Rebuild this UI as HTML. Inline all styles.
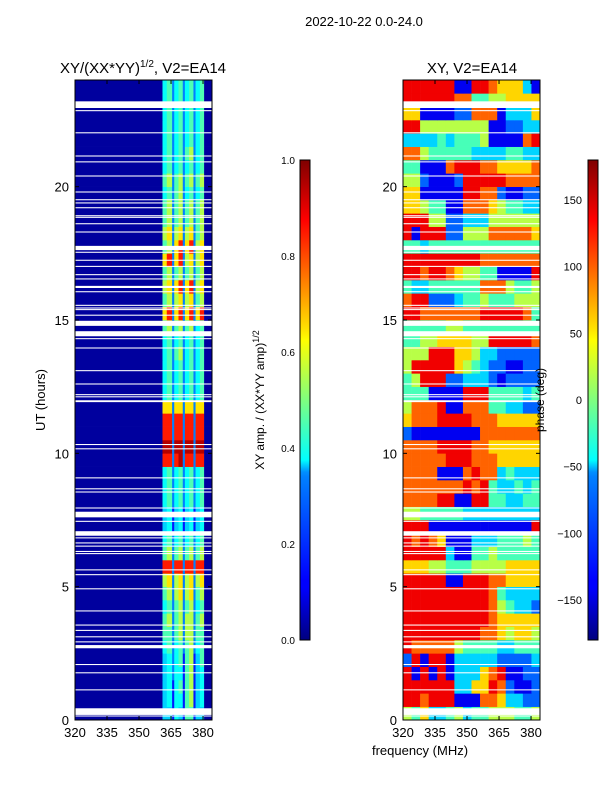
<!DOCTYPE html>
<html><head><meta charset="utf-8"><style>
body{margin:0;background:#fff;}
svg text{font-family:"Liberation Sans",sans-serif;}
</style></head><body>
<svg id="fig" width="600" height="800" viewBox="0 0 600 800" xmlns="http://www.w3.org/2000/svg">
<defs>
<linearGradient id="jetg" x1="0" y1="1" x2="0" y2="0">
<stop offset="0" stop-color="#00007f"/><stop offset="0.11" stop-color="#0000ff"/><stop offset="0.125" stop-color="#0000ff"/>
<stop offset="0.34" stop-color="#0080ff"/><stop offset="0.35" stop-color="#0090ff"/><stop offset="0.375" stop-color="#00ffff"/>
<stop offset="0.5" stop-color="#7fff7f"/><stop offset="0.625" stop-color="#ffff00"/><stop offset="0.65" stop-color="#ffe000"/>
<stop offset="0.875" stop-color="#ff0000"/><stop offset="1" stop-color="#7f0000"/>
</linearGradient>
</defs>
<text x="364" y="26" font-size="13" text-anchor="middle">2022-10-22 0.0-24.0</text>
<text x="143" y="73" font-size="15" text-anchor="middle">XY/(XX*YY)<tspan font-size="10" dy="-6">1/2</tspan><tspan dy="6">, V2=EA14</tspan></text>
<text x="472" y="73" font-size="15" text-anchor="middle">XY, V2=EA14</text>
<g id="left"></g>
<g id="right"></g>
<g id="axes"></g>
<text transform="translate(45,400) rotate(-90)" font-size="13" text-anchor="middle">UT (hours)</text>
<text x="420" y="755" font-size="13" text-anchor="middle">frequency (MHz)</text>
<rect x="300" y="160" width="10" height="480" fill="url(#jetg)" stroke="#000" stroke-width="1"/>
<rect x="588" y="160" width="10" height="480" fill="url(#jetg)" stroke="#000" stroke-width="1"/>
<text transform="translate(264,400) rotate(-90)" font-size="12" text-anchor="middle">XY amp. / (XX*YY amp)<tspan font-size="9" dy="-5">1/2</tspan></text>
<text transform="translate(544,400) rotate(-90)" font-size="12" text-anchor="middle">phase (deg)</text>
</svg>
<script>
const ampTicks=[0.0,0.2,0.4,0.6,0.8,1.0];
const phaseTicks=[-150,-100,-50,0,50,100,150];
const freqTicks=[320,335,350,365,380];
const utTicks=[0,5,10,15,20];
const ampLevels=[0.03,0.15,0.25,0.33,0.38,0.45,0.55,0.65,0.85,0.95];
const ampFreqEdges=[320,361,363,365.5,366.5,368.5,370.5,371.5,373.5,375.5,376.5,378.5,380.5,384.2];
const ampRows=["0331431551330","0341441561340","0341451561340","0342441561340","0342451561350","0452452562450",
"0552562662550","0562562662560","0452562562450","0562672672560","0672672672670","0882882882880",
"0562562562560","0452452452450","0341341341340","0341341341340","0452452452450","0452452452450",
"0452452452450","0882892882880","0992992992990","0882882882880","0882882882880","0772772772770",
"0452452452450","0452452452450","0452452452450","0452562452450","0452452452450","0562562562450",
"0782782782780","0562672672560","0672782782670","0562562562560","0782782672670","0562782782670",
"0672672672560","0562562562560","0562562562560","0452562452450","0562562562560","0452452452450",
"0452452562450","0452452452450","0452452452450","0452452452450","0452452452450","0452452452450"];
const phaseRows=["5463345344555445","8878881117763322","8888883366872112","8181813336781122","2818813333322223","8777775444433444",
"8888888887765665","8888888888766666","8888888888754332","8888888888743333","8888811888776666","6665544455556666",
"8888831144544444","8787611133344454","8881111111111118","5544444333333333","7777881188443344","7777777878433434",
"7777111787734333","7777788877766666","7777888877666666","2111111117777777","6777888877766666","5777811777443322",
"4441111888444434","4588822333212222","5888886543221122","5558886653322222","4455666655888887","4444455444444444",
"8877777778888874","7882223445444555","4334444447775445","8878876554411118","8888888887777777","4434444444444444",
"8188822555777776","8885522333555555","6654411777654433","6611111887721122","5521112888887777","4411178887766667",
"7754444433334433","3333434445111178","8855555555112233","6611112277713336","8888887744556666","8888881188766631"];
const flagStart=[0.13,0.19,1.11,1.75,2.06,2.69,2.91,3.1,3.34,3.54,4.07,4.9,5.43,5.61,6.22,6.3,6.5,6.62,6.81,6.91,7.43,7.6,7.93,8.53,8.65,9.06,10.15,10.31,11.92,12.1,12.18,12.58,13.08,13.93,14.28,14.39,14.78,15.16,15.37,15.43,15.53,16.04,16.2,16.52,16.68,16.99,17.22,17.52,17.62,18.28,18.59,18.83,18.89,19.19,19.37,19.49,19.78,20.38,20.91,21.13,22.0,22.83,22.95];
const flagEnd  =[0.17,0.44,1.15,1.79,2.1,2.81,2.95,3.14,3.38,3.58,4.11,4.94,5.47,5.65,6.26,6.34,6.54,6.66,6.85,7.08,7.47,7.81,7.97,8.57,8.69,9.1,10.19,10.35,11.99,12.14,12.22,12.62,13.12,13.97,14.32,14.58,14.97,15.2,15.41,15.47,15.57,16.08,16.28,16.56,16.72,17.03,17.26,17.56,17.78,18.32,18.63,18.87,18.93,19.23,19.41,19.53,19.82,20.42,20.95,21.17,22.04,22.87,23.2];

const NS="http://www.w3.org/2000/svg";
const panels={L:{x0:75,x1:212},R:{x0:403,x1:540}};
const Y0=720,Y1=80,UTMAX=24.0,FMIN=320,FMAX=384.2;
function yScale(t){return Y0-(t/UTMAX)*(Y0-Y1);}
function xScale(p,f){return p.x0+(f-FMIN)/(FMAX-FMIN)*(p.x1-p.x0);}
function cbY(v,lo,hi){return 640-(v-lo)/(hi-lo)*480;}
function cl(v){return Math.max(0,Math.min(1,v));}
function jet(v){const r=cl(1.5-Math.abs(4*v-3)),g=cl(1.5-Math.abs(4*v-2)),b=cl(1.5-Math.abs(4*v-1));
return `rgb(${Math.round(r*255)},${Math.round(g*255)},${Math.round(b*255)})`;}
function mk(tag,attrs,parent){const e=document.createElementNS(NS,tag);for(const k in attrs)e.setAttribute(k,attrs[k]);parent.appendChild(e);return e;}
const rowH=UTMAX/ampRows.length;
const gL=document.getElementById('left'),gR=document.getElementById('right'),gA=document.getElementById('axes');
ampRows.forEach((row,i)=>{
  const ya=yScale((i+1)*rowH),yb=yScale(i*rowH);
  for(let j=0;j<row.length;j++){
    const v=ampLevels[+row[j]];
    const xa=xScale(panels.L,ampFreqEdges[j]),xb=xScale(panels.L,ampFreqEdges[j+1]);
    const r=mk('rect',{x:xa,y:ya,width:xb-xa+0.3,height:yb-ya+0.3,fill:jet(v)},gL);
    
    
  }
});
phaseRows.forEach((row,i)=>{
  const ya=yScale((i+1)*rowH),yb=yScale(i*rowH);
  const n=row.length,df=(FMAX-FMIN)/n;
  for(let j=0;j<n;j++){
    const v=+row[j]/9;
    const xa=xScale(panels.R,FMIN+j*df),xb=xScale(panels.R,FMIN+(j+1)*df);
    const r=mk('rect',{x:xa,y:ya,width:xb-xa+0.3,height:yb-ya+0.3,fill:jet(v)},gR);
    
    
  }
});
flagStart.forEach((s,i)=>{
  const ya=yScale(flagEnd[i]),yb=yScale(s);
  [panels.L,panels.R].forEach(p=>{
    const r=mk('rect',{x:p.x0,y:ya,width:p.x1-p.x0,height:Math.max(1,yb-ya),fill:'#fff'},gA);
    
    
  });
});
[panels.L,panels.R].forEach(p=>{
  const fr=mk('rect',{x:p.x0,y:Y1,width:p.x1-p.x0,height:Y0-Y1,fill:'none',stroke:'#000','stroke-width':1},gA);
  
  
  freqTicks.forEach(f=>{
    const x=xScale(p,f);
    mk('line',{x1:x,y1:Y0,x2:x,y2:Y0-4,stroke:'#000'},gA);
    mk('line',{x1:x,y1:Y1,x2:x,y2:Y1+4,stroke:'#000'},gA);
    const t=mk('text',{x:x,y:Y0+17,'font-size':13,'text-anchor':'middle'},gA);t.textContent=f;
    
    
  });
  utTicks.forEach(u=>{
    const y=yScale(u);
    mk('line',{x1:p.x0,y1:y,x2:p.x0+4,y2:y,stroke:'#000'},gA);
    mk('line',{x1:p.x1,y1:y,x2:p.x1-4,y2:y,stroke:'#000'},gA);
    const t=mk('text',{x:p.x0-6,y:y+5,'font-size':13,'text-anchor':'end'},gA);t.textContent=u;
    
    
  });
});
ampTicks.forEach(v=>{
  const y=cbY(v,0,1);
  mk('line',{x1:300,y1:y,x2:303,y2:y,stroke:'#000'},gA);
  const t=mk('text',{x:295,y:y+4,'font-size':10,'text-anchor':'end'},gA);t.textContent=v.toFixed(1);
  
  
});
phaseTicks.forEach(v=>{
  const y=cbY(v,-180,180);
  mk('line',{x1:588,y1:y,x2:591,y2:y,stroke:'#000'},gA);
  const t=mk('text',{x:582,y:y+4,'font-size':11,'text-anchor':'end'},gA);t.textContent=v<0?'\u2212'+(-v):v;
  
  
});
</script>
</body></html>
